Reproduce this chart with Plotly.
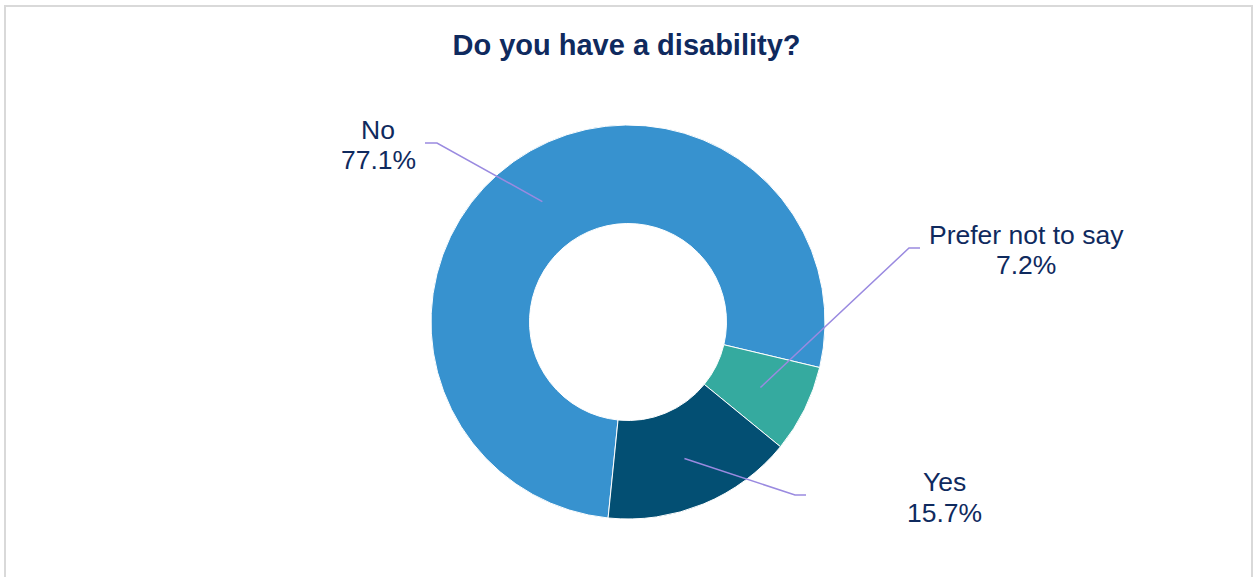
import math
import plotly.graph_objects as go

W, H = 1253, 577

labels = ["No", "Prefer not to say", "Yes"]
values = [77.1, 7.2, 15.7]
colors = ["#3792CF", "#35AA9F", "#034F73"]

# donut geometry (pixels)
cx, cy, R = 628, 322, 197
start = 185.8  # where "No" begins, degrees clockwise from 12 o'clock

# label line centres (name, percent) and leader-line elbows (pixels)
text_x = [378, 1026, 944]
name_y = [130, 235, 482]
pct_y = [160, 265, 513]
elbows = [(437, 143), (909, 248), (795, 495)]
ends = [(425, 143), (920, 248), (806, 495)]

navy = "#0F2A5E"
lead = "#9A8AE0"
font = "Liberation Sans, Arial"

def px(x):
    return x / W

def py(y):
    return 1 - y / H

fig = go.Figure(go.Pie(
    labels=labels, values=values, hole=0.5, sort=False,
    direction="clockwise", rotation=start,
    marker=dict(colors=colors, line=dict(color="white", width=1)),
    textinfo="none", hoverinfo="label+percent",
    domain=dict(x=[px(cx - R), px(cx + R)], y=[py(cy + R), py(cy - R)]),
))

# leader lines: from the middle of each ring segment to the label
total = sum(values)
acc = 0
shapes = []
for i, v in enumerate(values):
    mid = math.radians(start + 360 * (acc + v / 2) / total)
    acc += v
    r = 0.75 * R
    sx, sy = cx + r * math.sin(mid), cy - r * math.cos(mid)
    ex, ey = elbows[i]
    tx, ty = ends[i]
    shapes.append(dict(
        type="path", xref="paper", yref="paper",
        path=f"M {px(sx)} {py(sy)} L {px(ex)} {py(ey)} L {px(tx)} {py(ty)}",
        line=dict(color=lead, width=1.5),
    ))

# outer chart border
shapes.append(dict(type="rect", xref="paper", yref="paper",
                   x0=px(5), x1=px(1252), y0=-0.05, y1=py(6),
                   line=dict(color="#D9D9D9", width=2)))

annotations = []
for i, lab in enumerate(labels):
    for txt, y in ((lab, name_y[i]), (f"{values[i]:.1f}%", pct_y[i])):
        annotations.append(dict(
            text=txt, x=px(text_x[i]), y=py(y),
            xref="paper", yref="paper", showarrow=False,
            xanchor="center", yanchor="middle",
            font=dict(size=26.5, color=navy, family=font),
        ))

fig.update_layout(
    width=W, height=H, showlegend=False,
    paper_bgcolor="white", plot_bgcolor="white",
    margin=dict(l=0, r=0, t=0, b=0),
    title=dict(text="<b>Do you have a disability?</b>", x=0.5, xanchor="center",
               y=py(45), yanchor="middle",
               font=dict(size=29, color=navy, family=font)),
    shapes=shapes, annotations=annotations,
)

fig.write_html("out.html", config={"displayModeBar": False},
               post_script="document.body.style.margin='0';")
